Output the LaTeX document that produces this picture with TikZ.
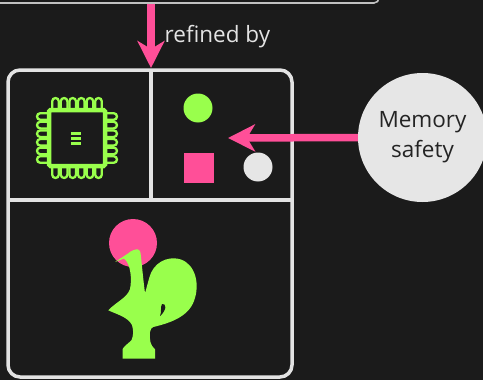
\documentclass[tikz,border=0pt]{standalone}
\usepackage{fontspec}
\setmainfont{Open Sans}
\usetikzlibrary{arrows.meta}

\definecolor{bg}{HTML}{1B1B1B}
\definecolor{ink}{HTML}{E3E3E3}
\definecolor{hotpink}{HTML}{FF4F98}
\definecolor{lime}{HTML}{99FF4C}
\definecolor{pale}{HTML}{E6E6E6}
\definecolor{darktext}{HTML}{242424}

\tikzset{
  panelbox/.style={draw=ink, line width=3.5pt, rounded corners=12pt,
    minimum width=284pt, minimum height=307pt, inner sep=0pt},
  specbox/.style={draw=ink!85!black, line width=1.6pt, rounded corners=5pt,
    minimum width=400pt, minimum height=46pt, inner sep=0pt},
  divider/.style={draw=ink, line width=3.5pt},
  refine/.style={draw=hotpink, line width=7.5pt,
    -{Stealth[length=27pt, width=27pt, inset=8pt]}},
  memnode/.style={circle, fill=pale, minimum size=129pt, inner sep=0pt,
    align=center, text=darktext, font=\fontsize{22.5}{30}\selectfont},
  caption/.style={text=ink, font=\fontsize{22.5}{27}\selectfont, inner sep=0pt},
  dot/.style={circle, minimum size=29pt, inner sep=0pt},
  pin/.style={draw=lime, line width=2.3pt, fill=bg, rounded corners=3.3pt},
  chipbody/.style={draw=lime, line width=4.5pt, fill=bg, rounded corners=1.5pt},
}

\begin{document}
\begin{tikzpicture}[x=1pt, y=-1pt]
  % canvas
  \fill[bg] (0,0) rectangle (483,380);
  \useasboundingbox (0,0) rectangle (483,380);

  % specification box above, only its lower edge shows
  \node[specbox] (spec) at (179,-20) {};

  % outer panel with three cells
  \node[panelbox] (panel) at (150,223.5) {};
  \coordinate (divtop) at (151,70);
  \coordinate (divbot) at (151,200);
  \coordinate (hleft) at (8,200);
  \coordinate (hright) at (292,200);
  \draw[divider] (divtop) -- (divbot);
  \draw[divider] (hleft) -- (hright);

  % refinement arrow and its label
  \coordinate (reftip) at (151,68);
  \draw[refine] (spec.south -| divtop) -- (reftip);
  \node[caption, anchor=base west] (lbl) at (164.5,42) {refined by};

  % chip icon
  \foreach \k in {-2.5,-1.5,-0.5,0.5,1.5,2.5} {
    \pgfmathsetmacro{\p}{77+8.6*\k}
    \pgfmathsetmacro{\q}{138+8.6*\k}
    \draw[pin] (\p-3.3,98) rectangle (\p+3.3,114);
    \draw[pin] (\p-3.3,162) rectangle (\p+3.3,178);
    \draw[pin] (37,\q-3.3) rectangle (53,\q+3.3);
    \draw[pin] (101,\q-3.3) rectangle (117,\q+3.3);
  }
  \node[chipbody, minimum width=56pt, minimum height=56pt] (chip) at (77,138) {};
  \foreach \yy in {133.5,138.5,143.5}
    \draw[lime, line width=2.4pt] (71,\yy) -- (80.5,\yy);

  % shapes cell
  \node[dot, fill=lime] (gdot) at (198,108) {};
  \node[fill=hotpink, minimum size=30pt, inner sep=0pt] (psq) at (199,168) {};
  \node[dot, fill=pale] (wdot) at (258,167) {};

  % memory safety bubble and its arrow
  \node[memnode] (mem) at (422.5,137.5) {Memory\\safety};
  \coordinate (memtip) at (228,138);
  \draw[refine] (mem.west) -- (memtip);

  % rooster
  \fill[hotpink] (133,243) circle[radius=24];
  \fill[lime] (122.7,358.7) -- (155,358.7) -- (155,349.3)
    .. controls (150,345) and (149.5,340) .. (150,332)
    .. controls (150.5,329) and (151.5,327.5) .. (153.3,327)
    .. controls (170,323) and (188,317) .. (194,301)
    .. controls (200,285) and (196,265) .. (181,259.5)
    .. controls (166,255) and (153,264) .. (149.5,277)
    .. controls (147.5,284) and (146,290) .. (145,293)
    .. controls (143.5,282) and (142,266) .. (141,257)
    .. controls (140.5,252) and (140,249.3) .. (138,249.3)
    .. controls (135,249.3) and (131,250.5) .. (128,253.5)
    -- (115,262)
    -- (124,258.5)
    .. controls (131,264) and (132,280) .. (130,289)
    .. controls (127,298) and (116,302) .. (108.3,310.3)
    .. controls (116,314) and (128,317) .. (132,325)
    .. controls (134,331) and (133,337) .. (131.5,340)
    .. controls (129,343) and (123.5,346.5) .. (122.7,349)
    -- cycle;
  \fill[bg] (162,304) .. controls (166.5,303) and (167,310) .. (160,316)
    .. controls (162,311) and (160,308) .. (162,304) -- cycle;
\end{tikzpicture}
\end{document}
